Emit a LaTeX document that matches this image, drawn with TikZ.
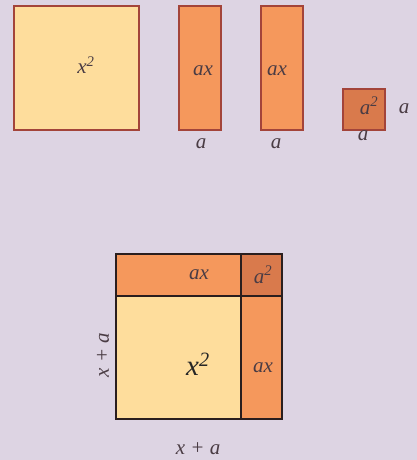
\documentclass[tikz,border=0pt]{standalone}
\usepackage{fontspec}
\setmainfont{Liberation Serif}
\begin{document}
\begin{tikzpicture}[x=1pt,y=-1pt,
  lbl/.style={text=txt,font=\fontsize{21}{21}\selectfont\itshape,inner sep=0pt},
  topbox/.style={draw=edgered,line width=1.6pt},
  botbox/.style={draw=edgedark,line width=1.6pt}]
\definecolor{bg}{HTML}{DDD4E3}
\definecolor{yel}{HTML}{FEDD9C}
\definecolor{org}{HTML}{F5985C}
\definecolor{dorg}{HTML}{D97A4C}
\definecolor{edgered}{HTML}{A3443A}
\definecolor{edgedark}{HTML}{2A1E1E}
\definecolor{txt}{HTML}{4A3C44}
\fill[bg] (0,0) rectangle (417,460);
\useasboundingbox (0,0) rectangle (417,460);
% top row
\draw[topbox,fill=yel] (14,6) rectangle (139,130);
\draw[topbox,fill=org] (179,6) rectangle (221,130);
\draw[topbox,fill=org] (261,6) rectangle (303,130);
\draw[topbox,fill=dorg] (343,89) rectangle (385,130);
\node[lbl] (tx2) at (86,65) {x\textsuperscript{2}};
\node[lbl] (tax1) at (203,71) {ax};
\node[lbl] (tax2) at (277,71) {ax};
\node[lbl] (ta2) at (369,106) {a\textsuperscript{2}};
\node[lbl] (ta1) at (201,144) {a};
\node[lbl] (ta3) at (276,144) {a};
\node[lbl] (ta4) at (363,136) {a};
\node[lbl] (ta5) at (404,109) {a};
% bottom
\draw[botbox,fill=yel] (116,296) rectangle (241,419);
\draw[botbox,fill=org] (116,254) rectangle (241,296);
\draw[botbox,fill=dorg] (241,254) rectangle (282,296);
\draw[botbox,fill=org] (241,296) rectangle (282,419);
\node[lbl] (bax1) at (199,275) {ax};
\node[lbl] (ba2) at (263,275) {a\textsuperscript{2}};
\node[lbl,font=\fontsize{29}{29}\selectfont\itshape,text=black!85] (bx2) at (198,364) {x\textsuperscript{2}};
\node[lbl] (bax2) at (263,368) {ax};
\node[lbl,rotate=90] (bxa1) at (103,355) {x + a};
\node[lbl] (bxa2) at (198,449) {x + a};
\end{tikzpicture}
\end{document}
